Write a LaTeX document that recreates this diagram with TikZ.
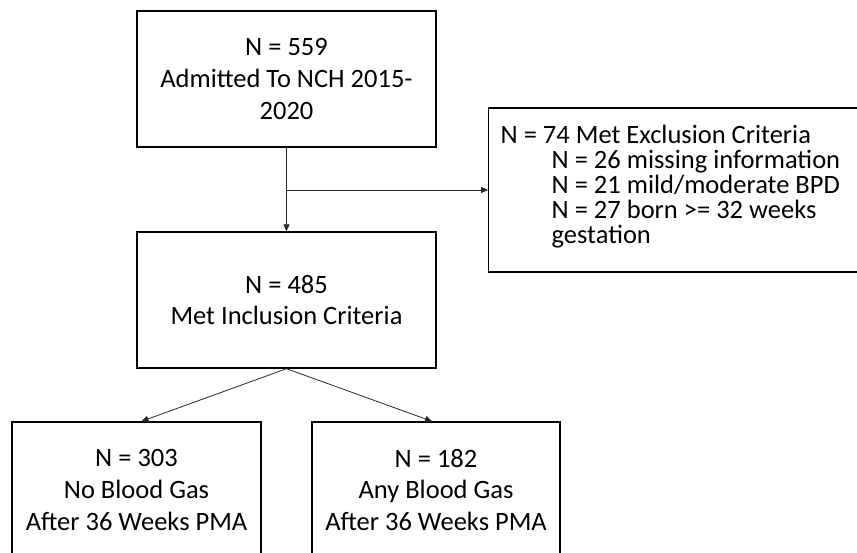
\documentclass[tikz,border=0pt]{standalone}
\usepackage{fontspec}
\setmainfont{Carlito}
\usetikzlibrary{arrows.meta}

\begin{document}
\begin{tikzpicture}[x=1pt,y=-1pt,
  box/.style={draw=black,line width=1.4pt,minimum width=299pt,minimum height=136pt,
    align=center,inner sep=0pt,font=\fontsize{26.5}{31.7}\selectfont},
  link/.style={draw=black!85,line width=0.8pt},
  arr/.style={link,-{Triangle[length=7pt,width=6pt]}}]
% The frame
\useasboundingbox (0,0) rectangle (857,553);
\clip (0,0) rectangle (857,553);
% The boxes
\node[box] (all) at (286.5,79) {N = 559\\Admitted To NCH 2015-\\2020};
\node[box] (incl) at (286.5,300) {N = 485\\Met Inclusion Criteria};
\node[box,anchor=west,align=flush left,text width=370pt,inner xsep=12pt,minimum height=164pt,
  font=\fontsize{26.5}{25}\selectfont] (excl) at (488,190)
  {N = 74 Met Exclusion Criteria\\
   \hspace*{51pt}N = 26 missing information\\
   \hspace*{51pt}N = 21 mild/moderate BPD\\
   \hspace*{51pt}N = 27 born >= 32 weeks\\
   \hspace*{51pt}gestation\rule[-12pt]{0pt}{12pt}};
\node[box,minimum width=249pt] (nogas) at (136.5,490) {N = 303\\No Blood Gas\\After 36 Weeks PMA};
\node[box,minimum width=248pt] (anygas) at (436,490) {N = 182\\Any Blood Gas\\After 36 Weeks PMA};
% The connectors
\coordinate (split) at (all.south |- excl.west);
\draw[arr] (all) -- (incl);
\draw[arr] (split) -- (excl.west);
\draw[arr] (incl.south) -- ([xshift=5pt]nogas.north);
\draw[arr] (incl.south) -- ([xshift=-4pt]anygas.north);
\end{tikzpicture}
\end{document}
